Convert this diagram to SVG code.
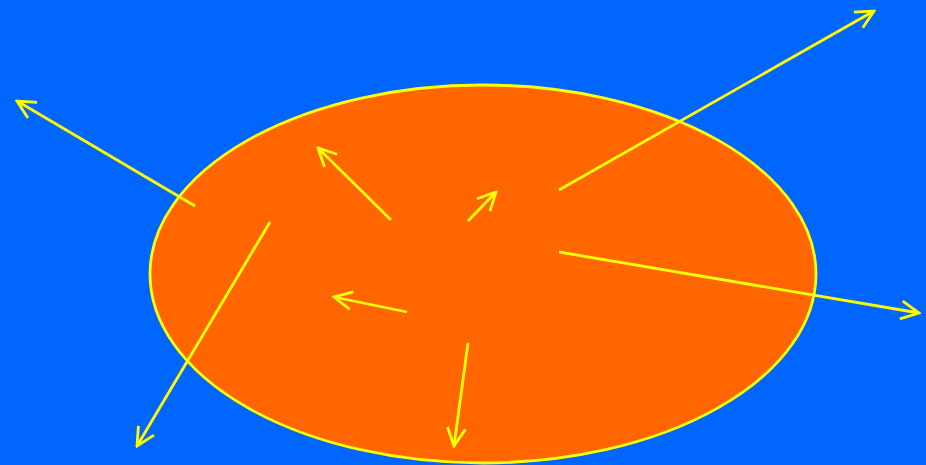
<svg xmlns="http://www.w3.org/2000/svg" width="926" height="465" viewBox="0 0 926 465">
<defs>
<marker id="ah" viewBox="0 0 22 22" refX="20" refY="11" markerWidth="22" markerHeight="22" markerUnits="userSpaceOnUse" orient="auto">
<path d="M2,2 L20,11 L2,20" fill="none" stroke="#FFFF00" stroke-width="2.8"/>
</marker>
<style>
.c line{stroke:#FFFF00;stroke-width:2.8;fill:none;marker-end:url(#ah)}
</style>
</defs>
<rect width="926" height="465" fill="#0066FF"/>
<g id="body"><ellipse cx="483" cy="274" rx="333" ry="189" fill="#FF6600" stroke="#FFFF00" stroke-width="2.8"/></g>
<g id="connectors" class="c">
<line x1="195" y1="206" x2="17" y2="101"/>
<line x1="559" y1="190" x2="874" y2="11"/>
<line x1="391" y1="220" x2="318" y2="148"/>
<line x1="468" y1="221" x2="496" y2="192"/>
<line x1="407" y1="312" x2="334" y2="297"/>
<line x1="559" y1="252" x2="919" y2="313"/>
<line x1="270" y1="222" x2="137" y2="446"/>
<line x1="468" y1="343" x2="454" y2="446"/>
</g>
</svg>
